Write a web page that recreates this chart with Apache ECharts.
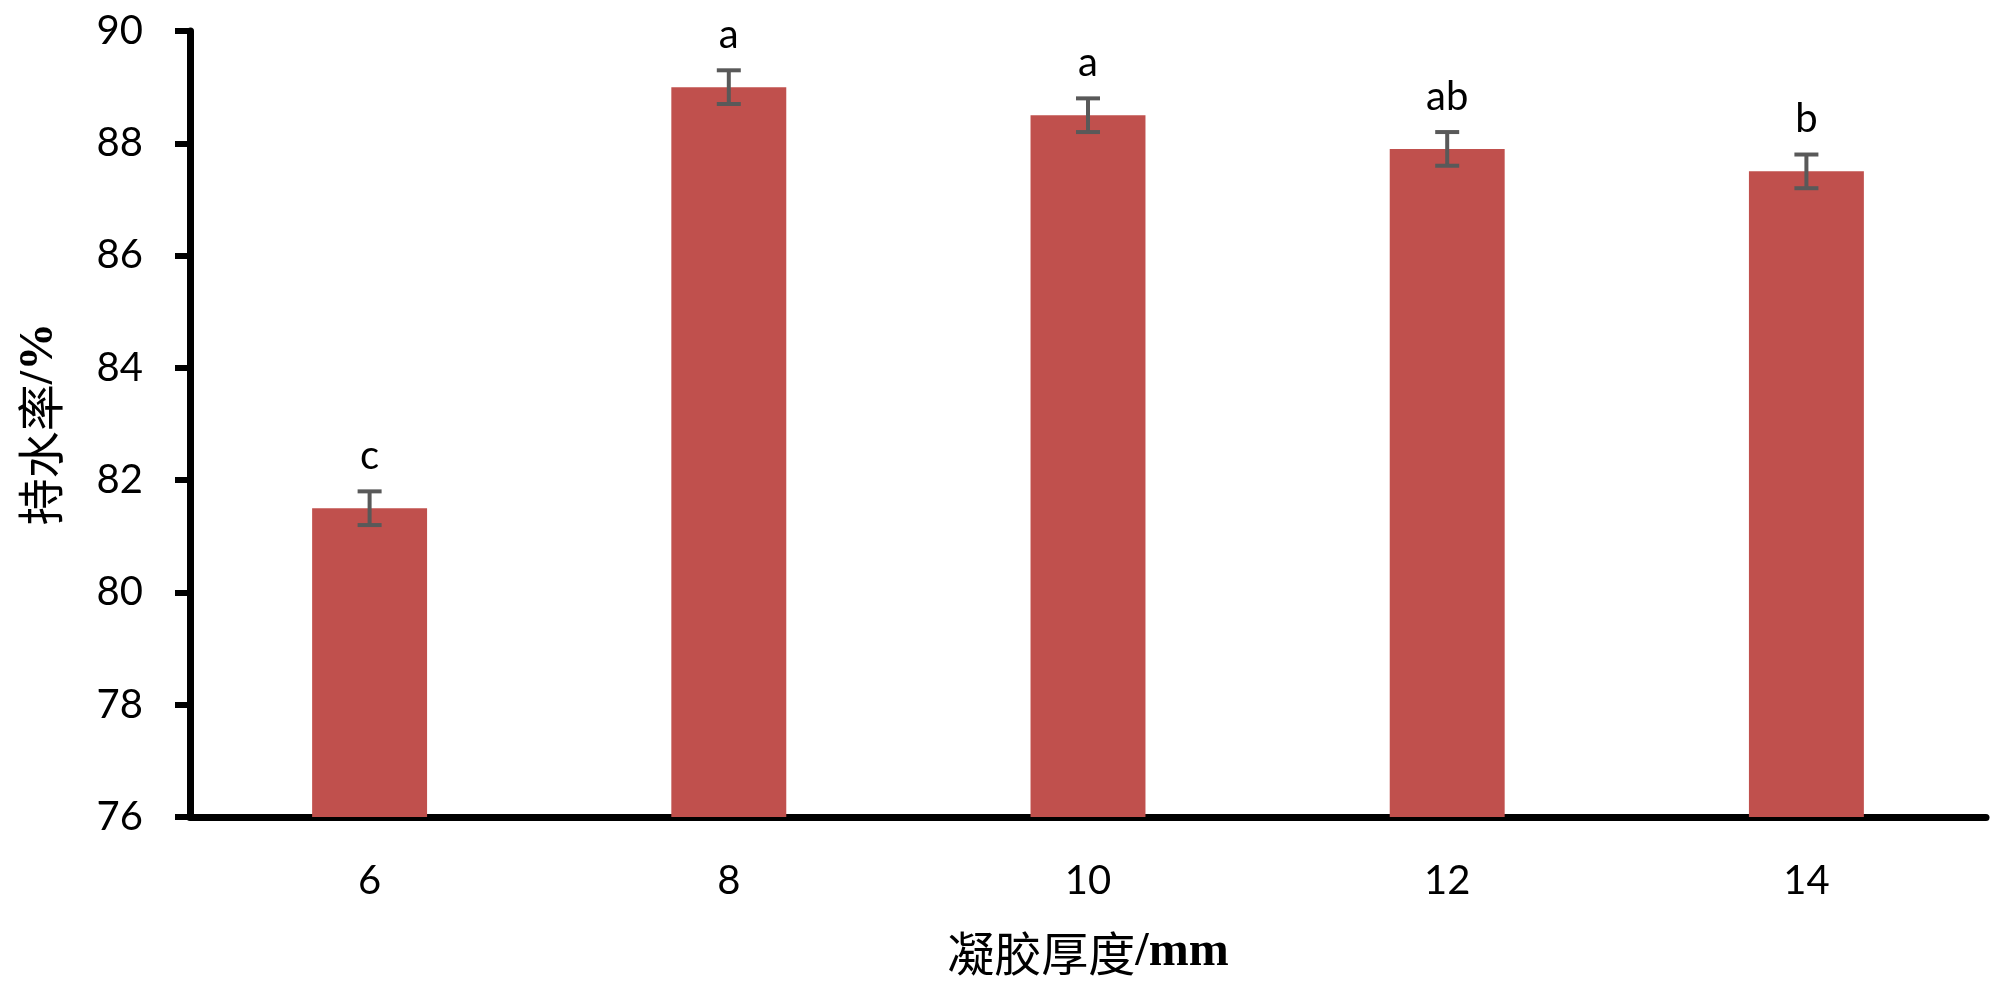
<!DOCTYPE html>
<html>
<head>
<meta charset="utf-8">
<script src="https://cdn.jsdelivr.net/npm/echarts@6/dist/echarts.min.js"></script>
<style>
  html, body { margin: 0; padding: 0; background: #fff; }
  #main { width: 2000px; height: 990px; }
</style>
</head>
<body>
<div id="main"></div>
<script>
var chart = echarts.init(document.getElementById('main'));

const thickness = ['6', '8', '10', '12', '14'];
const waterHolding = [81.5, 89.0, 88.5, 87.9, 87.5];
const errors = [0.3, 0.3, 0.3, 0.3, 0.3];
const letters = ['c', 'a', 'a', 'ab', 'b'];

const latin = 'Lato, "Noto Sans", sans-serif';

const errData = thickness.map(function (c, i) {
  return [i, waterHolding[i], errors[i], letters[i]];
});

// axis names: Chinese part + bold serif unit
const nameRich = {
  cn: { fontSize: 47, fontFamily: '"Noto Sans CJK SC"', color: '#000' },
  en: { fontSize: 48, fontFamily: '"Liberation Serif", serif', fontWeight: 'bold', color: '#000' }
};

var option = {
  animation: false,
  backgroundColor: '#fff',
  grid: { left: 190, right: 14, top: 31, bottom: 173, outerBoundsMode: 'none' },
  xAxis: {
    type: 'category',
    data: thickness,
    name: '{cn|凝胶厚度}{en|/mm}',
    nameLocation: 'middle',
    nameGap: 112,
    nameTextStyle: { rich: nameRich },
    axisLine: { lineStyle: { color: '#000', width: 7 } },
    axisTick: { show: false },
    axisLabel: { fontSize: 40, fontFamily: latin, color: '#000', margin: 44 }
  },
  yAxis: {
    type: 'value',
    min: 76,
    max: 90,
    interval: 2,
    name: '{cn|持水率}{en|/%}',
    nameLocation: 'middle',
    nameGap: 126,
    nameRotate: 90,
    nameTextStyle: { rich: nameRich },
    splitLine: { show: false },
    axisLine: { show: true, lineStyle: { color: '#000', width: 7 } },
    axisTick: { show: true, inside: false, length: 15, lineStyle: { color: '#000', width: 6 } },
    axisLabel: { fontSize: 40, fontFamily: latin, color: '#000', margin: 47 }
  },
  series: [
    {
      type: 'bar',
      data: waterHolding,
      barWidth: '32%',
      itemStyle: { color: '#C0504D' }
    },
    {
      type: 'custom',
      data: errData,
      z: 10,
      renderItem: function (params, api) {
        var x = api.coord([api.value(0), 0])[0];
        var v = api.value(1), e = api.value(2);
        var top = api.coord([api.value(0), v + e])[1];
        var bot = api.coord([api.value(0), v - e])[1];
        var half = 12;
        var st = { stroke: '#595959', lineWidth: 4 };
        return {
          type: 'group',
          children: [
            { type: 'line', shape: { x1: x, y1: top, x2: x, y2: bot }, style: st },
            { type: 'line', shape: { x1: x - half, y1: top, x2: x + half, y2: top }, style: st },
            { type: 'line', shape: { x1: x - half, y1: bot, x2: x + half, y2: bot }, style: st },
            {
              type: 'text',
              style: {
                text: api.value(3),
                x: x,
                y: top - 15,
                align: 'center',
                verticalAlign: 'bottom',
                fontSize: 40,
                fontFamily: latin,
                fill: '#000'
              }
            }
          ]
        };
      }
    }
  ]
};

option && chart.setOption(option);
</script>
</body>
</html>
